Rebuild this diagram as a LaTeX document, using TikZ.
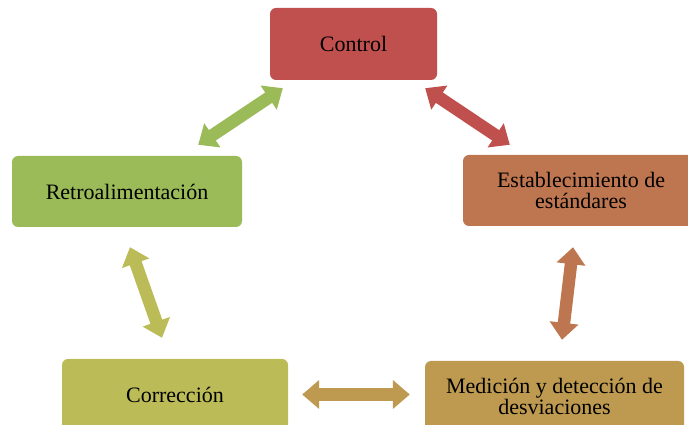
\documentclass[tikz,border=0pt]{standalone}
\usepackage{fontspec}
\setmainfont{Liberation Serif}
\usetikzlibrary{arrows.meta}
\definecolor{ctrlred}{HTML}{C0504D}
\definecolor{estorange}{HTML}{BE7650}
\definecolor{retrogreen}{HTML}{9BBB59}
\definecolor{corrolive}{HTML}{BBBB58}
\definecolor{medgold}{HTML}{BD9A50}
\tikzset{
	box/.style={rounded corners=6pt,minimum height=71pt,inner sep=2pt,align=center,font=\fontsize{22}{21}\selectfont},
	dbl/.style={line width=12.5pt,{Triangle[width=28pt,length=17pt]}-{Triangle[width=28pt,length=17pt]}}
}
\begin{document}
\begin{tikzpicture}[x=1pt,y=1pt]
	\useasboundingbox (0,0) rectangle (688,425);
	\node[box,fill=ctrlred,minimum width=167pt,minimum height=72pt] (control) at (353.5,381) {Control};
	\node[box,fill=estorange,minimum width=236pt] (estab) at (581,234.5) {Establecimiento de\\est\'andares};
	\node[box,fill=retrogreen,minimum width=230pt] (retro) at (127,233.5) {Retroalimentaci\'on};
	\node[box,fill=corrolive,minimum width=226pt] (corr) at (175,30.5) {Correcci\'on};
	\node[box,fill=medgold,minimum width=259pt] (medic) at (554.5,28.5) {Medici\'on y detecci\'on de\\desviaciones};
	\draw[dbl,retrogreen] ([xshift=-44pt,yshift=11pt]retro.north east) -- ([xshift=13pt,yshift=-8pt]control.south west);
	\draw[dbl,ctrlred] ([xshift=-12pt,yshift=-8pt]control.south east) -- ([xshift=47pt,yshift=10pt]estab.north west);
	\draw[dbl,corrolive] ([xshift=3pt,yshift=-20pt]retro.south) -- ([xshift=-13pt,yshift=21pt]corr.north);
	\draw[dbl,estorange] ([xshift=-8pt,yshift=-21pt]estab.south) -- ([xshift=7.5pt,yshift=21pt]medic.north);
	\draw[dbl,medgold] ([xshift=14pt]corr.east) -- ([xshift=-15pt,yshift=2pt]medic.west);
\end{tikzpicture}
\end{document}
